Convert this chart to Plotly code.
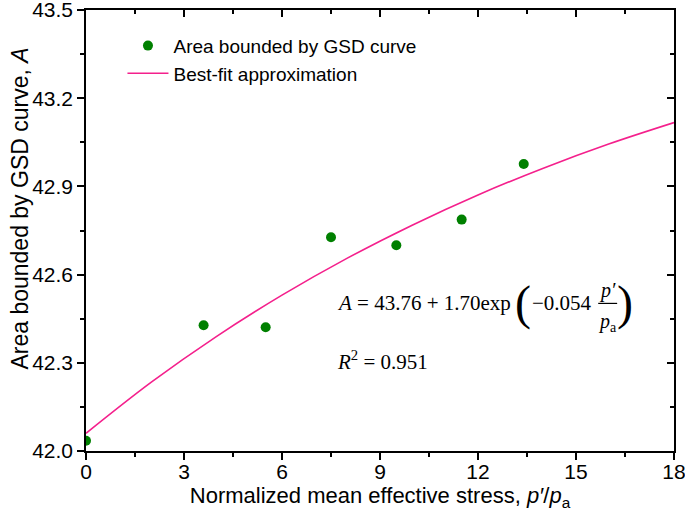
import plotly.graph_objects as go

# measured points
stress = [0, 3.6, 5.5, 7.5, 9.5, 11.5, 13.4]
area = [42.035, 42.428, 42.421, 42.727, 42.700, 42.787, 42.976]

# best-fit curve
fit_x = [0, 2, 4, 6, 8, 10, 12, 14, 16, 18]
fit_y = [42.060, 42.234, 42.390, 42.530, 42.656, 42.769, 42.871, 42.962, 43.044, 43.117]

x_ticks = [0, 3, 6, 9, 12, 15, 18]
y_ticks = [42.0, 42.3, 42.6, 42.9, 43.2, 43.5]

SANS = "Liberation Sans, Arial, sans-serif"
SERIF = "Liberation Serif, Times New Roman, serif"

fig = go.Figure()

fig.add_trace(go.Scatter(
    x=stress, y=area, mode="markers",
    name="Area bounded by GSD curve",
    marker=dict(color="#008000", size=10),
))
fig.add_trace(go.Scatter(
    x=fit_x, y=fit_y, mode="lines", line_shape="spline",
    name="Best-fit approximation",
    line=dict(color="#f4208c", width=1.6),
))
# empty trace so the mirrored (top/right) axes are drawn
fig.add_trace(go.Scatter(x=[], y=[], xaxis="x2", yaxis="y2",
                         showlegend=False, hoverinfo="skip"))

axis_common = dict(
    showgrid=False, zeroline=False, showline=True, automargin=False,
    linecolor="black", linewidth=1.5,
    tickcolor="black", tickwidth=1.5, ticklen=7,
    tickfont=dict(family=SANS, size=21, color="black"),
    ticklabeloverflow="allow",
)

fig.update_layout(
    width=685, height=517,
    margin=dict(l=86, r=11, t=10, b=66),
    plot_bgcolor="white", paper_bgcolor="white",
    xaxis=dict(
        range=[0, 18], tickvals=x_ticks, ticks="outside", ticklabelstandoff=-6,
        minor=dict(dtick=1.5, ticks="outside", ticklen=4, tickcolor="black", tickwidth=1.5),
        title=dict(text="Normalized mean effective stress, <i>p′</i>/<i>p</i><sub>a</sub>",
                   font=dict(family=SANS, size=22, color="black"), standoff=1),
        **axis_common,
    ),
    yaxis=dict(
        range=[42.0, 43.5], tickvals=y_ticks, tickformat=".1f", ticks="outside",
        ticksuffix="\u00a0\u00a0",
        minor=dict(dtick=0.15, ticks="outside", ticklen=4, tickcolor="black", tickwidth=1.5),
        **axis_common,
    ),
    xaxis2=dict(
        range=[0, 18], overlaying="x", side="top", anchor="y", tickvals=x_ticks,
        ticks="inside", showticklabels=False,
        minor=dict(dtick=1.5, ticks="inside", ticklen=4, tickcolor="black", tickwidth=1.5),
        **axis_common,
    ),
    yaxis2=dict(
        range=[42.0, 43.5], overlaying="y", side="right", anchor="x", tickvals=y_ticks,
        ticks="inside", showticklabels=False,
        minor=dict(dtick=0.15, ticks="inside", ticklen=4, tickcolor="black", tickwidth=1.5),
        **axis_common,
    ),
    legend=dict(
        x=0.062, y=0.962, xanchor="left", yanchor="top", itemwidth=41,
        bgcolor="rgba(0,0,0,0)", font=dict(family=SANS, size=19, color="black"),
        tracegroupgap=0,
    ),
    showlegend=True,
)

notes = [
    dict(x=-0.112, y=0.55, xref="paper", yref="paper", textangle=-90,
         text="Area bounded by GSD curve, <i>A</i>",
         font=dict(family=SANS, size=23, color="black")),
    dict(x=7.62, y=42.502, xanchor="left",
         text="<i>A</i> = 43.76 + 1.70exp", font=dict(family=SERIF, size=21, color="black")),
    dict(x=13.38, y=42.505, text="(", font=dict(family=SERIF, size=48, color="black")),
    dict(x=13.6, y=42.502, xanchor="left",
         text="−0.054", font=dict(family=SERIF, size=21, color="black")),
    dict(x=15.97, y=42.546, text="<i>p′</i>", font=dict(family=SERIF, size=20, color="black")),
    dict(x=15.97, y=42.436, text="<i>p</i><sub>a</sub>", font=dict(family=SERIF, size=20, color="black")),
    dict(x=16.5, y=42.505, text=")", font=dict(family=SERIF, size=48, color="black")),
    dict(x=7.62, y=42.309, xanchor="left",
         text="<i>R</i><sup>2</sup> = 0.951", font=dict(family=SERIF, size=21, color="black")),
]
for n in notes:
    n.setdefault("xref", "x")
    n.setdefault("yref", "y")
    n.setdefault("xanchor", "center")
    n.setdefault("yanchor", "middle")
    fig.add_annotation(showarrow=False, **n)

fig.add_shape(type="line", xref="x", yref="y", x0=15.68, x1=16.26, y0=42.502, y1=42.502,
              line=dict(color="black", width=1.2))

fig.write_html("out.html", config={"displayModeBar": False},
               post_script="document.body.style.margin = '0';")
